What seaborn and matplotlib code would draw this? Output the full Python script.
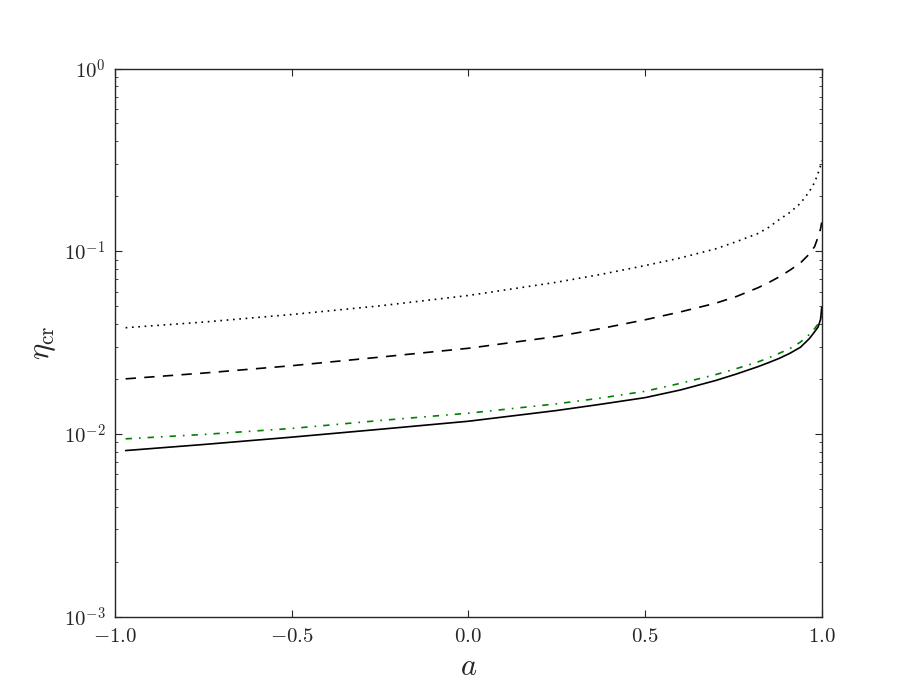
import numpy as np
import pandas as pd
import seaborn as sns
import matplotlib.pyplot as plt
from matplotlib.ticker import FuncFormatter, MultipleLocator

# values
a_vals = [-0.97, -0.75, -0.5, -0.25, 0.0, 0.25, 0.375, 0.5, 0.6, 0.7, 0.76, 0.82,
          0.85, 0.88, 0.91, 0.94, 0.965, 0.98, 0.99, 0.997, 1.0]
eta_dotted = [0.0381, 0.0409, 0.0450, 0.0502, 0.0572, 0.0676, 0.0746, 0.0834, 0.0918,
              0.103, 0.113, 0.125, 0.135, 0.149, 0.163, 0.183, 0.212, 0.238, 0.268,
              0.295, 0.313]
eta_dashed = [0.0200, 0.0215, 0.0236, 0.0263, 0.0294, 0.0341, 0.0377, 0.0421, 0.0465,
              0.0519, 0.0566, 0.0631, 0.0673, 0.0724, 0.0787, 0.0863, 0.0965, 0.106,
              0.120, 0.133, 0.1436]
eta_dashdot = [0.00939, 0.00992, 0.0107, 0.01183, 0.01297, 0.0146, 0.0157, 0.0171,
               0.0189, 0.0211, 0.0228, 0.02477, 0.02606, 0.0276, 0.0293, 0.0318, 0.0350,
               0.0377, 0.0400, 0.0430, 0.0462]
eta_solid = [0.0081, 0.00874, 0.00959, 0.01059, 0.01172, 0.01342, 0.01452, 0.01578,
             0.01738, 0.01959, 0.0213, 0.02333, 0.02455, 0.0259, 0.0276, 0.0298, 0.0332,
             0.0362, 0.0385, 0.0425, 0.0492]

series = {'dotted': eta_dotted, 'dashed': eta_dashed,
          'dashdot': eta_dashdot, 'solid': eta_solid}
df = pd.concat([pd.DataFrame({'a': a_vals, 'eta': v, 'curve': k})
                for k, v in series.items()], ignore_index=True)

sns.set_style('ticks')
plt.rcParams['mathtext.fontset'] = 'cm'
plt.rcParams['axes.linewidth'] = 1.0

fig, ax = plt.subplots(figsize=(9.13, 6.85), dpi=100)
fig.subplots_adjust(left=0.126, right=0.9, bottom=0.1, top=0.9)

palette = {'dotted': 'black', 'dashed': 'black', 'dashdot': 'green', 'solid': 'black'}
dashes = {'dotted': (1.0, 2.8), 'dashed': (6.2, 5), 'dashdot': (3.8, 4.2, 1.0, 4.2), 'solid': ''}
sns.lineplot(data=df, x='a', y='eta', hue='curve', style='curve',
             palette=palette, dashes=dashes, linewidth=1.2, legend=False, ax=ax)

ax.set_yscale('log')
ax.set_xlim(-1, 1)
ax.set_ylim(1e-3, 1)
ax.xaxis.set_major_locator(MultipleLocator(0.5))
ax.xaxis.set_major_formatter(FuncFormatter(lambda v, p: f'${v:.1f}$'))
ax.yaxis.set_major_formatter(FuncFormatter(lambda v, p: f'$10^{{{int(round(np.log10(v)))}}}$'))
ax.tick_params(which='both', direction='in', top=True, right=True, labelsize=15)
ax.tick_params(which='major', length=5, width=0.8, pad=7)
ax.tick_params(which='minor', length=2.5, width=0.6)
ax.tick_params(axis='x', which='minor', bottom=False, top=False)

ax.set_xlabel(r'$a$', fontsize=22)
ax.set_ylabel(r'$\eta_{\rm cr}$', fontsize=22)

fig.savefig('out.png', dpi=100)
